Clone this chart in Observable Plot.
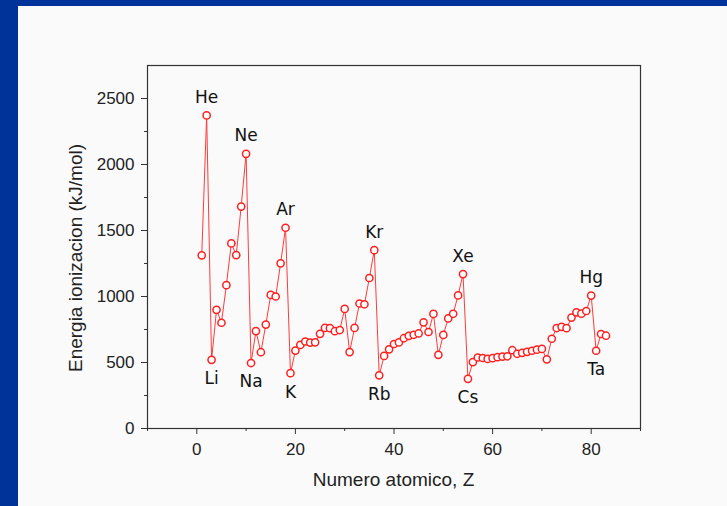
<!DOCTYPE html>
<html><head><meta charset="utf-8">
<script src="https://cdn.jsdelivr.net/npm/d3@7"></script>
<script src="https://cdn.jsdelivr.net/npm/@observablehq/plot@0.6"></script>
<style>
html,body{margin:0;padding:0;}
body{width:727px;height:506px;background:#003399;position:relative;overflow:hidden;}
#panel{position:absolute;left:18px;top:6px;right:0;bottom:0;background:#fafafa;}
#chart{position:absolute;left:0;top:0;}
</style></head><body><div id="panel"></div><div id="chart"></div>
<script>
const atomicNumbers = [1,2,3,4,5,6,7,8,9,10,11,12,13,14,15,16,17,18,19,20,21,22,23,24,25,26,27,28,29,30,31,32,33,34,35,36,37,38,39,40,41,42,43,44,45,46,47,48,49,50,51,52,53,54,55,56,57,58,59,60,61,62,63,64,65,66,67,68,69,70,71,72,73,74,75,76,77,78,79,80,81,82,83];
const energies = [1312,2372,520,899,801,1086,1402,1314,1681,2081,496,738,578,787,1012,1000,1251,1521,419,590,633,659,651,653,717,762,760,737,746,906,579,762,947,941,1140,1351,403,550,600,640,652,684,702,710,720,804,731,868,558,709,834,869,1008,1170,376,503,538,534,527,533,540,545,547,593,566,573,581,589,597,603,524,680,761,770,760,840,880,870,890,1007,589,716,703];
const peakNames = ["He","Ne","Ar","Kr","Xe","Hg"];
const peakZ = [2,10,18,36,54,80];
const dipNames = ["Li","Na","K","Rb","Cs","Ta"];
const dipZ = [3,11,19,37,55,81];
const xMajorTicks = [0,20,40,60,80];
const xMinorTicks = [-10,10,30,50,70,90];
const yMajorTicks = [0,500,1000,1500,2000,2500];
const yMinorTicks = [250,750,1250,1750,2250];
const xTitle = "Numero atomico, Z";
const yTitle = "Energia ionizacion (kJ/mol)";

const data = atomicNumbers.map((z, i) => ({z, e: energies[i]}));
const eOf = z => energies[atomicNumbers.indexOf(z)];
const peaks = peakZ.map((z, i) => ({z, e: eOf(z), name: peakNames[i]}));
const dips = dipZ.map((z, i) => ({z, e: eOf(z), name: dipNames[i]}));

const plot = Plot.plot({
  width: 727, height: 506,
  marginLeft: 147, marginRight: 87, marginTop: 65, marginBottom: 78,
  style: {background: "transparent", fontFamily: "'Liberation Sans', Arial, sans-serif", fontSize: "17px", color: "#222"},
  x: {domain: [-10, 90]},
  y: {domain: [0, 2750]},
  marks: [
    Plot.axisX({ticks: xMajorTicks, tickSize: 6, tickPadding: 8, label: null, tickFormat: d3.format("d"), stroke: "#333"}),
    Plot.axisX({ticks: xMinorTicks, tickSize: 3, label: null, tickFormat: () => "", stroke: "#333"}),
    Plot.axisY({ticks: yMajorTicks, tickSize: 6, tickPadding: 7, label: null, tickFormat: d3.format("d"), stroke: "#333"}),
    Plot.axisY({ticks: yMinorTicks, tickSize: 3, label: null, tickFormat: () => "", stroke: "#333"}),
    Plot.frame({stroke: "#333", strokeWidth: 1.2}),
    Plot.line(data, {x: "z", y: "e", stroke: "#ff3b3b", strokeWidth: 1}),
    Plot.dot(data, {x: "z", y: "e", r: 3.6, stroke: "#ff1f1f", strokeWidth: 1.5, fill: "white"}),
    Plot.text(peaks, {x: "z", y: "e", text: "name", dy: -18, fontFamily: "'DejaVu Sans', sans-serif", fontSize: 17, fill: "#111"}),
    Plot.text(dips, {x: "z", y: "e", text: "name", dy: 19, fontFamily: "'DejaVu Sans', sans-serif", fontSize: 17, fill: "#111"})
  ]
});
document.getElementById("chart").appendChild(plot);

const svg = d3.select(plot);
svg.append("text")
  .attr("x", 393.5).attr("y", 486)
  .attr("text-anchor", "middle")
  .attr("font-family", "'Liberation Sans', Arial, sans-serif")
  .attr("font-size", 19).attr("fill", "#222")
  .text(xTitle);
svg.append("text")
  .attr("transform", "translate(82,258) rotate(-90)")
  .attr("text-anchor", "middle")
  .attr("font-family", "'Liberation Sans', Arial, sans-serif")
  .attr("font-size", 19).attr("fill", "#222")
  .text(yTitle);
</script></body></html>
